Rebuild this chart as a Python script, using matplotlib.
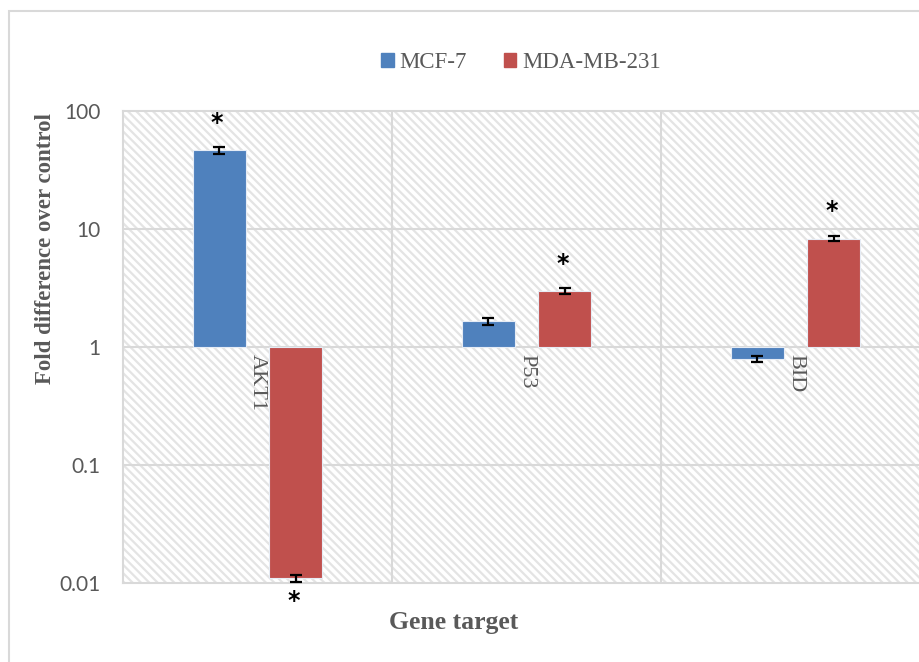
import matplotlib.pyplot as plt
import numpy as np
from matplotlib.patches import Rectangle

# Данные (кратность изменения относительно контроля)
genes = ["AKT1", "P53", "BID"]
series = ["MCF-7", "MDA-MB-231"]
mcf7 = [46.5, 1.65, 0.79]
mcf7_err = [3.0, 0.1, 0.05]
mda = [0.011, 3.0, 8.3]
mda_err = [0.0008, 0.18, 0.45]
mcf7_star = [True, False, False]
mda_star = [True, True, True]
colors = ["#4F81BD", "#C0504D"]

plt.rcParams["hatch.linewidth"] = 1.6

fig = plt.figure(figsize=(9.2, 6.62), dpi=100)
fig.patches.append(
    Rectangle((9 / 920, -0.1), 1.2, 1 - 11 / 662 + 0.1, transform=fig.transFigure,
              fill=False, edgecolor="#d9d9d9", linewidth=1.5)
)

ax = fig.add_axes([123 / 920, 1 - 583 / 662, 807 / 920, 472 / 662])
ax.set_yscale("log")
ax.set_ylim(0.01, 100)
ax.set_xlim(-0.5, 2.5)

# штриховка фона
ax.add_patch(Rectangle((0, 0), 1, 1, transform=ax.transAxes, facecolor="white",
                       edgecolor="#e4e4e4", linewidth=0, hatch="\\\\\\\\", zorder=0))

x = np.arange(len(genes))
off = 0.143
w = 0.197
for vals, errs, stars, dx, c in [(mcf7, mcf7_err, mcf7_star, -off, colors[0]),
                                 (mda, mda_err, mda_star, off, colors[1])]:
    vals = np.array(vals)
    ax.bar(x + dx, vals - 1, bottom=1, width=w, color=c, edgecolor="#e6ecf5",
           linewidth=0.8, zorder=3)
    ax.errorbar(x + dx, vals, yerr=errs, fmt="none", ecolor="black",
                elinewidth=1.6, capsize=4, capthick=1.6, zorder=4)
    for xi, v, s in zip(x + dx, vals, stars):
        if not s:
            continue
        y = v * 1.7 if v > 1 else v / 1.55
        ax.text(xi - 0.01, y, "*", ha="center", va="center", fontsize=17,
                fontweight="bold", family="DejaVu Sans", zorder=5)

# сетка
for v in [0.1, 1, 10]:
    ax.axhline(v, color="#d9d9d9", linewidth=1.5, zorder=1)
for v in [0.5, 1.5]:
    ax.axvline(v, color="#d9d9d9", linewidth=1.5, zorder=1)
for s in ax.spines.values():
    s.set_color("#d9d9d9")
    s.set_linewidth(1.5)

# подписи категорий у линии 1
for xi, g in zip(x, genes):
    ax.text(xi, 0.87, g, rotation=270, ha="center", va="top", fontsize=16,
            family="Liberation Serif", color="#595959", zorder=5)

ax.set_xticks([])
ax.set_yticks([0.01, 0.1, 1, 10, 100])
ax.set_yticklabels(["0.01", "0.1", "1", "10", "100"])
ax.minorticks_off()
ax.tick_params(axis="y", length=0, pad=16, labelsize=15, labelcolor="#595959")
for lab in ax.get_yticklabels():
    lab.set_family("Lato")

fig.text(46 / 920, 1 - 248 / 662, "Fold difference over control", rotation=90,
         ha="center", va="center", fontsize=16.5, fontweight="bold",
         family="Liberation Serif", color="#595959")
fig.text(454 / 920, 1 - 622 / 662, "Gene target", ha="center", va="center",
         fontsize=18.5, fontweight="bold", family="Liberation Serif", color="#595959")

handles = [Rectangle((0, 0), 1, 1, color=c) for c in colors]
fig.legend(handles, series, loc="center", bbox_to_anchor=(521 / 920, 1 - 63 / 662),
           ncol=2, frameon=False, handlelength=0.55, handleheight=0.55,
           handletextpad=0.25, columnspacing=1.6,
           prop={"family": "Liberation Serif", "size": 16.5}, labelcolor="#595959")

fig.savefig("out.png", dpi=100)
